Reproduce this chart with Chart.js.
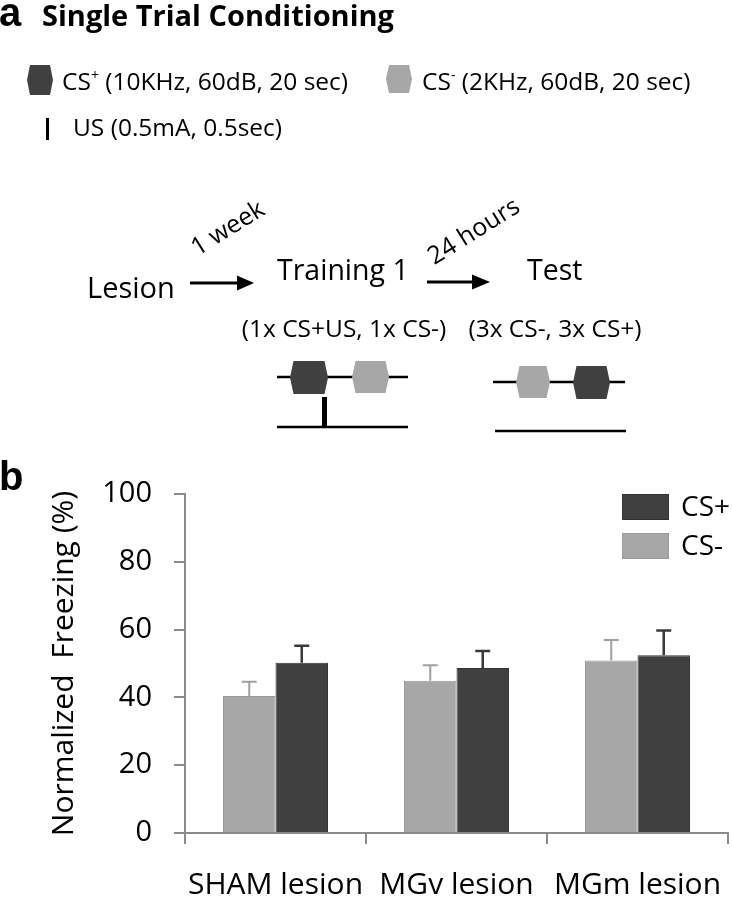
<!DOCTYPE html>
<html>
<head>
<meta charset="utf-8">
<script src="https://cdn.jsdelivr.net/npm/chart.js@4.4.0/dist/chart.umd.min.js"></script>
<style>
  html, body { margin: 0; padding: 0; background: #fff; }
  #page { position: relative; width: 732px; height: 900px; overflow: hidden; }
  #chartBox { position: absolute; left: 0; top: 460px; width: 732px; height: 440px; }
  #schema { position: absolute; left: 0; top: 0; pointer-events: none; }
  #schema text { font-family: 'Open Sans', sans-serif; fill: #000; }
  #schema text.panel { font-family: 'Liberation Sans', Arial, sans-serif; font-weight: bold; }
</style>
</head>
<body>
<div id="page">
  <div id="chartBox"><canvas id="freezingChart" width="732" height="440"></canvas></div>

  <!-- painel a: esquema do protocolo -->
  <svg id="schema" width="732" height="900">
    <text class="panel" x="-1" y="26" font-size="40">a</text>
    <text x="42" y="26" font-size="29" font-weight="700">Single Trial Conditioning</text>

    <polygon points="30,65 50,65 53,80 50,95 30,95 27,80" fill="#404040"/>
    <text x="62" y="90" font-size="24.5">CS<tspan font-size="14" dy="-10">+</tspan><tspan dy="10"> (10KHz, 60dB, 20 sec)</tspan></text>
    <polygon points="389,65 409,65 412,79 409,93 389,93 386,79" fill="#a7a7a7"/>
    <text x="422" y="90" font-size="24.5">CS<tspan font-size="14" dy="-10">-</tspan><tspan dy="10"> (2KHz, 60dB, 20 sec)</tspan></text>
    <rect x="46" y="118" width="3" height="22" fill="#000"/>
    <text x="73" y="136" font-size="24.5">US (0.5mA, 0.5sec)</text>

    <text x="87" y="298" font-size="29">Lesion</text>
    <line x1="190" y1="283" x2="240" y2="283" stroke="#000" stroke-width="3"/>
    <polygon points="237,275.5 254,283 237,290.5" fill="#000"/>
    <text x="232" y="235" font-size="25" text-anchor="middle" transform="rotate(-32 232 235)">1 week</text>
    <text x="277" y="280" font-size="28.5">Training 1</text>
    <line x1="427" y1="282" x2="475" y2="282" stroke="#000" stroke-width="3"/>
    <polygon points="472,274.5 490,282 472,289.5" fill="#000"/>
    <text x="478" y="238" font-size="25" text-anchor="middle" transform="rotate(-32 478 238)">24 hours</text>
    <text x="527" y="280" font-size="28.5">Test</text>
    <text x="344" y="337" font-size="24.5" text-anchor="middle">(1x CS+US, 1x CS-)</text>
    <text x="555" y="337" font-size="24.5" text-anchor="middle">(3x CS-, 3x CS+)</text>

    <!-- treino -->
    <line x1="277" y1="377" x2="408" y2="377" stroke="#000" stroke-width="2.5"/>
    <polygon points="293.5,361 324.5,361 328,377.5 324.5,394 293.5,394 290,377.5" fill="#404040"/>
    <polygon points="355.5,361 385.5,361 389,377 385.5,393 355.5,393 352,377" fill="#a7a7a7"/>
    <rect x="322" y="397" width="5" height="31" fill="#000"/>
    <line x1="277" y1="427" x2="408" y2="427" stroke="#000" stroke-width="2.5"/>

    <!-- teste -->
    <line x1="493" y1="382" x2="625" y2="382" stroke="#000" stroke-width="2.5"/>
    <polygon points="519.5,366 546.5,366 550,382 546.5,398 519.5,398 516,382" fill="#a7a7a7"/>
    <polygon points="576.5,366 606.5,366 610,382.5 606.5,399 576.5,399 573,382.5" fill="#404040"/>
    <line x1="495" y1="431" x2="626" y2="431" stroke="#000" stroke-width="2.5"/>

    <text class="panel" x="-1" y="490" font-size="40">b</text>
  </svg>
</div>

<script>
// Dados (média e erro padrão)
const categories = ['SHAM lesion', 'MGv lesion', 'MGm lesion'];
const csMinusMeans = [40.4, 44.9, 50.9];
const csMinusErr = [4.2, 4.6, 6.0];
const csPlusMeans = [50.2, 48.7, 52.4];
const csPlusErr = [5.0, 5.0, 7.3];
const yTickValues = [0, 20, 40, 60, 80, 100];

const darkGray = '#404040';
const lightGray = '#a7a7a7';
const axisGray = '#8a8a8a';

// Barras de erro (só para cima, com traço no topo)
const errorBars = {
    id: 'errorBars',
    afterDatasetsDraw(chart) {
        const ctx = chart.ctx;
        const y = chart.scales.y;
        chart.data.datasets.forEach((ds, i) => {
            const meta = chart.getDatasetMeta(i);
            ctx.save();
            ctx.strokeStyle = ds.errorColor;
            ctx.lineWidth = ds.errorWidth;
            meta.data.forEach((bar, j) => {
                const yTop = y.getPixelForValue(ds.data[j] + ds.errors[j]);
                ctx.beginPath();
                ctx.moveTo(bar.x, bar.y);
                ctx.lineTo(bar.x, yTop);
                ctx.moveTo(bar.x - 7.5, yTop);
                ctx.lineTo(bar.x + 7.5, yTop);
                ctx.stroke();
            });
            ctx.restore();
        });
    }
};

// Legenda no canto superior direito (CS+ primeiro)
const legendBoxes = {
    id: 'legendBoxes',
    afterDraw(chart) {
        const ctx = chart.ctx;
        const area = chart.chartArea;
        const items = chart.data.datasets.slice().reverse();
        ctx.save();
        ctx.font = '28px "Open Sans"';
        ctx.textBaseline = 'middle';
        items.forEach((ds, k) => {
            const top = area.top + k * 39;
            const left = area.right - 106;
            ctx.fillStyle = ds.backgroundColor;
            ctx.fillRect(left, top, 47, 26);
            ctx.strokeStyle = ds.borderColor;
            ctx.lineWidth = 1;
            ctx.strokeRect(left + 0.5, top + 0.5, 46, 25);
            ctx.fillStyle = '#000';
            ctx.fillText(ds.label, left + 59, top + 14);
        });
        ctx.restore();
    }
};

const ctx = document.getElementById('freezingChart').getContext('2d');
const freezingChart = new Chart(ctx, {
    type: 'bar',
    data: {
        labels: categories,
        datasets: [{
            label: 'CS-',
            data: csMinusMeans,
            errors: csMinusErr,
            backgroundColor: lightGray,
            borderColor: '#9a9a9a',
            borderWidth: 1,
            errorColor: '#a0a0a0',
            errorWidth: 2
        }, {
            label: 'CS+',
            data: csPlusMeans,
            errors: csPlusErr,
            backgroundColor: darkGray,
            borderColor: '#333333',
            borderWidth: 1,
            errorColor: '#3a3a3a',
            errorWidth: 2.5
        }]
    },
    options: {
        responsive: false,
        animation: false,
        categoryPercentage: 0.58,
        barPercentage: 1.0,
        layout: { padding: { left: 0, right: 4, top: 34, bottom: 0 } },
        plugins: {
            legend: { display: false },
            tooltip: { enabled: false }
        },
        scales: {
            x: {
                grid: {
                    drawOnChartArea: false,
                    tickLength: 11,
                    color: axisGray,
                    lineWidth: 2,
                    offset: true
                },
                border: { color: axisGray, width: 2 },
                ticks: {
                    color: '#000',
                    font: { family: 'Open Sans', size: 30 },
                    padding: 23,
                    maxRotation: 0,
                    autoSkip: false
                },
                afterFit: (scale) => {
                    scale.height = 67;
                    scale.paddingLeft = 0;
                    scale.paddingRight = 0;
                }
            },
            y: {
                min: 0,
                max: 100,
                afterBuildTicks: (scale) => {
                    scale.ticks = yTickValues.map(v => ({ value: v }));
                },
                grid: {
                    drawOnChartArea: false,
                    tickLength: 11,
                    color: axisGray,
                    lineWidth: 2
                },
                border: { color: axisGray, width: 2 },
                ticks: {
                    color: '#000',
                    font: { family: 'Open Sans', size: 29 },
                    padding: 22
                },
                title: {
                    display: true,
                    text: 'Normalized  Freezing (%)',
                    color: '#000',
                    font: { family: 'Open Sans', size: 30 },
                    padding: { top: 46, bottom: 0 }
                },
                afterFit: (scale) => {
                    scale.width = 185;
                    scale.paddingTop = 0;
                    scale.paddingBottom = 0;
                }
            }
        }
    },
    plugins: [errorBars, legendBoxes]
});
</script>
</body>
</html>
